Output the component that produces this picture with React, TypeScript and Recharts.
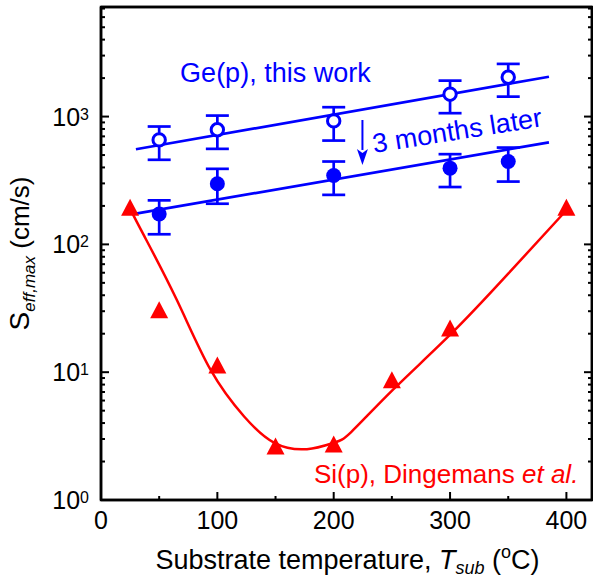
import React from 'react';
import {
  ComposedChart,
  XAxis,
  YAxis,
  Line,
  Scatter,
  ErrorBar,
  ReferenceDot,
  ReferenceLine,
  ReferenceArea,
} from 'recharts';

const FONT = '"Liberation Sans", Arial, Helvetica, sans-serif';
const BLUE = '#0000ff';
const RED = '#ff0000';

// Ge(p), this work: substrate temperatures (°C)
const tempGe = [50, 100, 200, 300, 350];
// as-deposited S_eff,max (cm/s) and error bar limits
const geAsDep = [657, 788, 925, 1497, 2032];
const geAsDepLow = [459, 559, 649, 1063, 1432];
const geAsDepHigh = [836, 1018, 1184, 1911, 2583];
// 3 months later
const geLater = [173, 298, 346, 395, 445];
const geLaterLow = [120, 208, 244, 281, 310];
const geLaterHigh = [221, 390, 445, 508, 572];

// linear (log-scale) fits
const fitX = [30, 385];
const fitAsDep = [555, 2050];
const fitLater = [174, 628];

// Si(p), Dingemans et al.
const tempSi = [25, 50, 100, 150, 200, 250, 300, 400];
const siVals = [190, 30, 11.1, 2.57, 2.67, 8.5, 21.6, 190];

// guide curve through Si data
const siCurveX = [25, 37, 65, 94, 123, 149, 177, 200, 215, 251, 301, 350, 400];
const siCurveY = [190, 117, 37, 10.5, 4.5, 2.8, 2.5, 2.8, 3.4, 7.3, 20, 59, 185];

// axes
const xDomain = [0, 422];
const yDomain = [1, 7200];
const xTicks = [0, 50, 100, 150, 200, 250, 300, 350, 400];
const yTicks = [
  1, 2, 3, 4, 5, 6, 7, 8, 9,
  10, 20, 30, 40, 50, 60, 70, 80, 90,
  100, 200, 300, 400, 500, 600, 700, 800, 900,
  1000, 2000, 3000, 4000, 5000, 6000, 7000,
];

// annotation anchors (data coordinates)
const geLabelPos = { x: 68, y: 1876 };
const laterLabelPos = { x: 234.7, y: 519 };
const siLabelPos = { x: 410.3, y: 1.35 };
const arrowX = 224.7;
const arrowTop = 940;
const arrowShaftEnd = 548;
const arrowTip = 418;

const asDepData = tempGe.map((x, i) => ({
  x,
  y: geAsDep[i],
  err: [geAsDep[i] - geAsDepLow[i], geAsDepHigh[i] - geAsDep[i]],
}));
const laterData = tempGe.map((x, i) => ({
  x,
  y: geLater[i],
  err: [geLater[i] - geLaterLow[i], geLaterHigh[i] - geLater[i]],
}));
const fitAsDepData = fitX.map((x, i) => ({ x, y: fitAsDep[i] }));
const fitLaterData = fitX.map((x, i) => ({ x, y: fitLater[i] }));
const siData = tempSi.map((x, i) => ({ x, y: siVals[i] }));
const siCurveData = siCurveX.map((x, i) => ({ x, y: siCurveY[i] }));

const isMajorX = (v: number) => v % 100 === 0;
const isMajorY = (v: number) => {
  const e = Math.log10(v);
  return Math.abs(e - Math.round(e)) < 1e-9;
};

const XTickBottom = (props: any) => {
  const { x, y, payload } = props;
  const major = isMajorX(payload.value);
  return (
    <g>
      <line x1={x} x2={x} y1={y} y2={y - (major ? 8 : 4)} stroke="#000" strokeWidth={2} />
      {major && (
        <text x={x} y={y + 29} textAnchor="middle" fontSize={25} fontFamily={FONT} fill="#000">
          {payload.value}
        </text>
      )}
    </g>
  );
};

const XTickTop = (props: any) => {
  const { x, y, payload } = props;
  const major = isMajorX(payload.value);
  return <line x1={x} x2={x} y1={y} y2={y + (major ? 8 : 4)} stroke="#000" strokeWidth={2} />;
};

const YTickLeft = (props: any) => {
  const { x, y, payload } = props;
  const major = isMajorY(payload.value);
  const e = Math.round(Math.log10(payload.value));
  return (
    <g>
      <line x1={x} x2={x + (major ? 8 : 4)} y1={y} y2={y} stroke="#000" strokeWidth={2} />
      {major && (
        <text x={x - 12} y={y + 9} textAnchor="end" fontSize={25} fontFamily={FONT} fill="#000">
          <tspan>10</tspan>
          <tspan fontSize={16} dy={-6}>
            {e}
          </tspan>
        </text>
      )}
    </g>
  );
};

const YTickRight = (props: any) => {
  const { x, y, payload } = props;
  const major = isMajorY(payload.value);
  return <line x1={x} x2={x - (major ? 8 : 4)} y1={y} y2={y} stroke="#000" strokeWidth={2} />;
};

const XLabel = (props: any) => {
  const vb = props.viewBox || {};
  const cx = vb.x + vb.width / 2 + 1;
  const by = vb.y + 69;
  return (
    <text x={cx} y={by} textAnchor="middle" fontSize={27} fontFamily={FONT} fill="#000">
      <tspan>{'Substrate temperature, '}</tspan>
      <tspan fontStyle="italic">T</tspan>
      <tspan fontStyle="italic" fontSize={18} dy={5}>
        sub
      </tspan>
      <tspan dy={-5}>{' ('}</tspan>
      <tspan fontSize={18} dy={-11}>
        o
      </tspan>
      <tspan dy={11}>{'C)'}</tspan>
    </text>
  );
};

const YLabel = (props: any) => {
  const vb = props.viewBox || {};
  const bx = 29;
  const cy = vb.y + vb.height / 2;
  return (
    <text
      x={bx}
      y={cy}
      transform={`rotate(-90 ${bx} ${cy})`}
      textAnchor="middle"
      fontSize={26}
      fontFamily={FONT}
      fill="#000"
    >
      <tspan fontSize={28}>S</tspan>
      <tspan fontStyle="italic" fontSize={17} dy={6}>
        eff,max
      </tspan>
      <tspan dy={-6}>{' (cm/s)'}</tspan>
    </text>
  );
};

const OpenCircle = (props: any) => (
  <circle cx={props.cx} cy={props.cy} r={6.2} fill="#fff" stroke={BLUE} strokeWidth={3} />
);
const FilledCircle = (props: any) => <circle cx={props.cx} cy={props.cy} r={7.5} fill={BLUE} />;
const Triangle = (props: any) => {
  const { cx, cy } = props;
  return (
    <polygon points={`${cx},${cy - 10} ${cx - 9},${cy + 7} ${cx + 9},${cy + 7}`} fill={RED} />
  );
};

const GeLabel = (props: any) => (
  <text x={props.cx} y={props.cy} fontSize={27} fontFamily={FONT} fill={BLUE}>
    Ge(p), this work
  </text>
);
const LaterLabel = (props: any) => (
  <text
    x={props.cx}
    y={props.cy}
    transform={`rotate(-9 ${props.cx} ${props.cy})`}
    fontSize={27}
    fontFamily={FONT}
    fill={BLUE}
  >
    3 months later
  </text>
);
const SiLabel = (props: any) => (
  <text x={props.cx} y={props.cy} textAnchor="end" fontSize={26} fontFamily={FONT} fill={RED}>
    <tspan>{'Si(p), Dingemans '}</tspan>
    <tspan fontStyle="italic">et al.</tspan>
  </text>
);
const ArrowHead = (props: any) => {
  const { cx, cy } = props;
  return (
    <polygon
      points={`${cx},${cy} ${cx - 5.5},${cy - 16} ${cx},${cy - 12} ${cx + 5.5},${cy - 16}`}
      fill={BLUE}
    />
  );
};

export default function App() {
  return (
    <div style={{ position: 'absolute', left: 0, top: 0, background: '#fff' }}>
      <ComposedChart
        width={593}
        height={577}
        margin={{ top: 6, right: 0, bottom: 0, left: 0 }}
        style={{ fontFamily: FONT }}
      >
        <XAxis
          dataKey="x"
          type="number"
          domain={xDomain}
          allowDataOverflow
          ticks={xTicks}
          interval={0}
          height={77}
          tickSize={0}
          tickMargin={0}
          tickLine={false}
          tick={XTickBottom}
          axisLine={{ stroke: '#000', strokeWidth: 2.5 }}
          label={XLabel}
        />
        <XAxis
          xAxisId="top"
          orientation="top"
          type="number"
          domain={xDomain}
          allowDataOverflow
          ticks={xTicks}
          interval={0}
          height={1}
          tickSize={0}
          tickMargin={0}
          tickLine={false}
          tick={XTickTop}
          axisLine={{ stroke: '#000', strokeWidth: 2.5 }}
        />
        <YAxis
          dataKey="y"
          type="number"
          scale="log"
          domain={yDomain}
          allowDataOverflow
          ticks={yTicks}
          interval={0}
          width={101}
          tickSize={0}
          tickMargin={0}
          tickLine={false}
          tick={YTickLeft}
          axisLine={{ stroke: '#000', strokeWidth: 2.5 }}
          label={YLabel}
        />
        <YAxis
          yAxisId="right"
          orientation="right"
          type="number"
          scale="log"
          domain={yDomain}
          allowDataOverflow
          ticks={yTicks}
          interval={0}
          width={1}
          tickSize={0}
          tickMargin={0}
          tickLine={false}
          tick={YTickRight}
          axisLine={{ stroke: '#000', strokeWidth: 2.5 }}
        />

        <ReferenceArea
          x1={xDomain[0]}
          x2={xDomain[1]}
          y1={yDomain[0]}
          y2={yDomain[1]}
          fill="none"
          fillOpacity={0}
          stroke="#000"
          strokeWidth={2.5}
          ifOverflow="visible"
        />

        <Line
          data={siCurveData}
          dataKey="y"
          type="natural"
          stroke={RED}
          strokeWidth={2.5}
          dot={false}
          activeDot={false}
          isAnimationActive={false}
        />
        <Line
          data={fitAsDepData}
          dataKey="y"
          type="linear"
          stroke={BLUE}
          strokeWidth={2.7}
          dot={false}
          activeDot={false}
          isAnimationActive={false}
        />
        <Line
          data={fitLaterData}
          dataKey="y"
          type="linear"
          stroke={BLUE}
          strokeWidth={2.7}
          dot={false}
          activeDot={false}
          isAnimationActive={false}
        />

        <Scatter data={asDepData} shape={OpenCircle} isAnimationActive={false}>
          <ErrorBar
            dataKey="err"
            direction="y"
            width={11.5}
            stroke={BLUE}
            strokeWidth={2.7}
            isAnimationActive={false}
          />
        </Scatter>
        <Scatter data={laterData} shape={FilledCircle} isAnimationActive={false}>
          <ErrorBar
            dataKey="err"
            direction="y"
            width={11.5}
            stroke={BLUE}
            strokeWidth={2.7}
            isAnimationActive={false}
          />
        </Scatter>
        <Scatter data={siData} shape={Triangle} isAnimationActive={false} />

        <ReferenceLine
          segment={[
            { x: arrowX, y: arrowTop },
            { x: arrowX, y: arrowShaftEnd },
          ]}
          stroke={BLUE}
          strokeWidth={2}
        />
        <ReferenceDot x={arrowX} y={arrowTip} r={1} shape={ArrowHead} />
        <ReferenceDot x={geLabelPos.x} y={geLabelPos.y} r={1} shape={GeLabel} />
        <ReferenceDot x={laterLabelPos.x} y={laterLabelPos.y} r={1} shape={LaterLabel} />
        <ReferenceDot x={siLabelPos.x} y={siLabelPos.y} r={1} shape={SiLabel} />
      </ComposedChart>
    </div>
  );
}
